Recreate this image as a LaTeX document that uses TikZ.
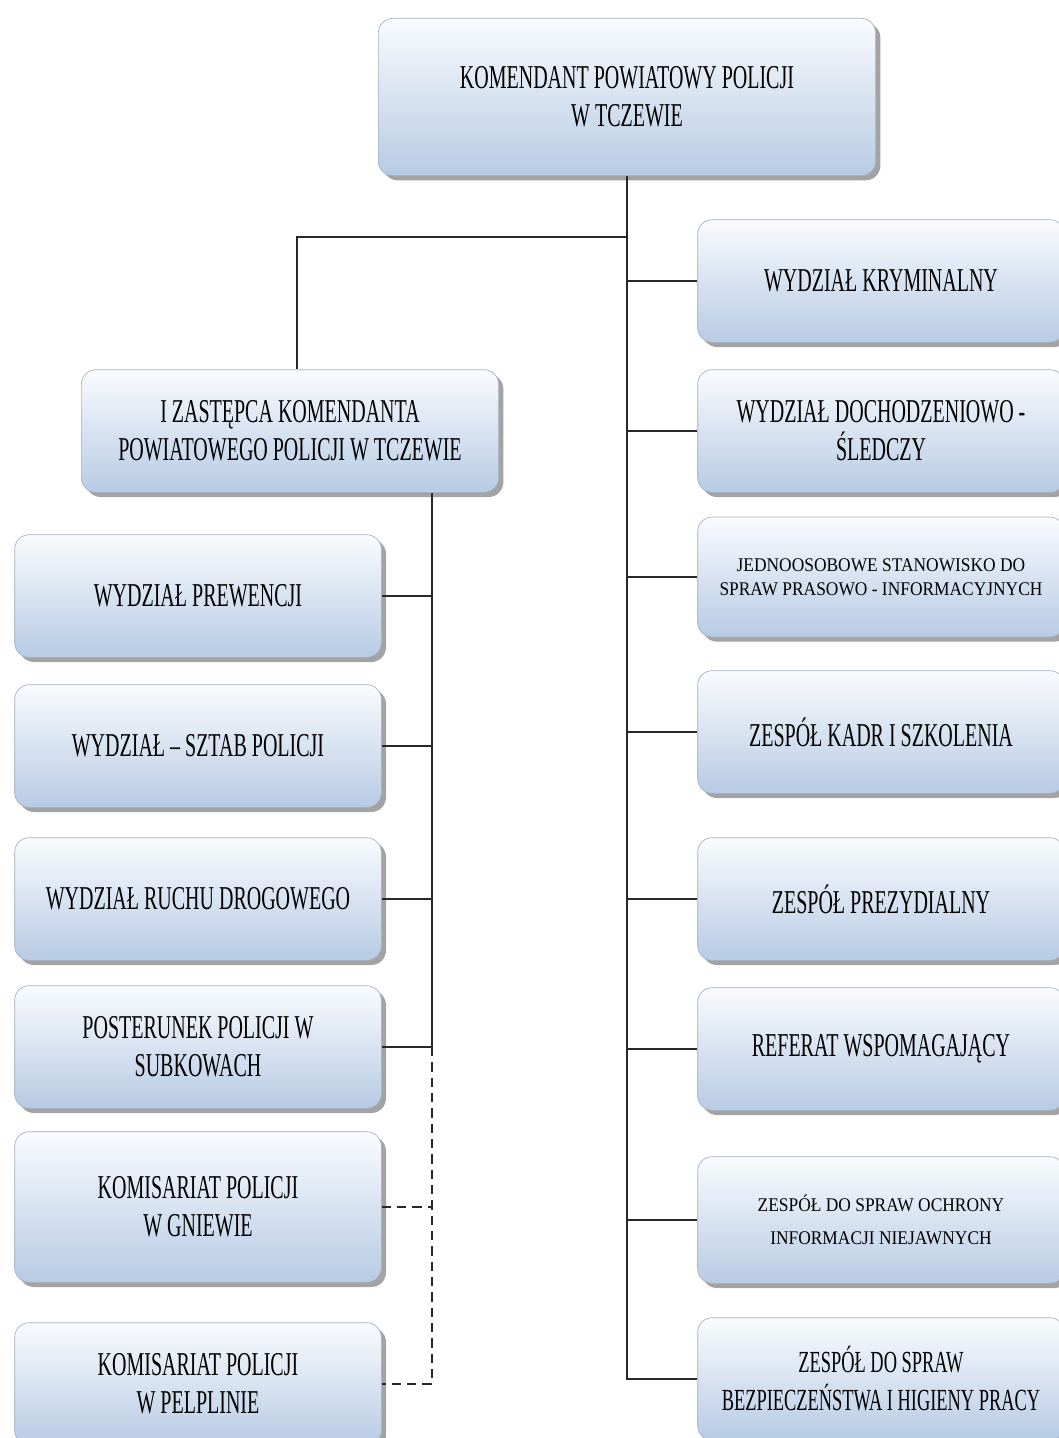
\documentclass[tikz,border=0pt]{standalone}
\usepackage{fontspec}
\setmainfont{Liberation Serif}[FakeStretch=0.6]
\newfontfamily\widefont{Liberation Serif}[FakeStretch=0.9]
\usetikzlibrary{shadows}

\definecolor{boxtop}{RGB}{249,251,254}
\definecolor{boxbot}{RGB}{183,203,228}
\definecolor{boxline}{RGB}{165,177,196}
\definecolor{linkgray}{RGB}{40,40,40}

\tikzset{every picture/.style={line width=0.75pt}}
\tikzset{
  unitbox/.style={rectangle, rounded corners=11pt, draw=boxline, line width=0.5pt,
    top color=boxtop, bottom color=boxbot, align=center, inner sep=2pt, text=black,
    drop shadow={shadow xshift=3.5pt, shadow yshift=-3.5pt, fill=black!60, opacity=.6},
    font=\fontsize{25}{28.5}\selectfont},
  sidebox/.style={unitbox, minimum width=275pt, minimum height=92pt},
  smalltext/.style={font=\widefont\fontsize{14.5}{18}\selectfont},
  link/.style={draw=linkgray, line width=1.4pt},
  dashlink/.style={link, dash pattern=on 7pt off 4.5pt}
}

\begin{document}
\begin{tikzpicture}[x=0.75pt,y=0.75pt,yscale=-1,xscale=1]
\path[use as bounding box] (0,0) rectangle (1059,1438);
\clip (0,0) rectangle (1059,1438);

% Komendant
\node[unitbox, minimum width=373pt, minimum height=118pt] (kpp) at (627,97) {KOMENDANT POWIATOWY POLICJI\\W TCZEWIE};

% Zastepca
\node[unitbox, minimum width=313pt, minimum height=92pt] (zast) at (290,431) {I ZASTĘPCA KOMENDANTA\\POWIATOWEGO POLICJI W TCZEWIE};

% left column
\node[sidebox] (prew) at (198,596) {WYDZIAŁ PREWENCJI};
\node[sidebox] (sztab) at (198,746) {WYDZIAŁ – SZTAB POLICJI};
\node[sidebox] (ruch) at (198,899) {WYDZIAŁ RUCHU DROGOWEGO};
\node[sidebox] (post) at (198,1047) {POSTERUNEK POLICJI W\\SUBKOWACH};
\node[sidebox, minimum height=113pt] (gniew) at (198,1207) {KOMISARIAT POLICJI\\W GNIEWIE};
\node[sidebox] (pelp) at (198,1384) {KOMISARIAT POLICJI\\W PELPLINIE};

% right column
\node[sidebox] (kryml) at (881,281) {WYDZIAŁ KRYMINALNY};
\node[sidebox] (doch) at (881,431) {WYDZIAŁ DOCHODZENIOWO -\\ŚLEDCZY};
\node[sidebox, minimum height=90pt, smalltext] (jedn) at (881,577) {JEDNOOSOBOWE STANOWISKO DO\\SPRAW PRASOWO - INFORMACYJNYCH};
\node[sidebox] (kadr) at (881,732) {ZESPÓŁ KADR I SZKOLENIA};
\node[sidebox] (prez) at (881,899) {ZESPÓŁ PREZYDIALNY};
\node[sidebox] (ref) at (881,1049) {REFERAT WSPOMAGAJĄCY};
\node[sidebox, minimum height=95pt, font=\widefont\fontsize{14.5}{25}\selectfont] (ochr) at (881,1220) {ZESPÓŁ DO SPRAW OCHRONY\\INFORMACJI NIEJAWNYCH};
\node[sidebox, font=\fontsize{23}{28.5}\selectfont] (bhp) at (881,1379) {ZESPÓŁ DO SPRAW\\BEZPIECZEŃSTWA I HIGIENY PRACY};

\coordinate (split) at (627,237);
\coordinate (lsplit) at ([xshift=106.5pt]zast.south);

% connectors
\draw[link] (kpp.south) |- (bhp.west);
\draw[link] (split) -| ([xshift=5pt]zast.north);
\foreach \n in {kryml,doch,jedn,kadr,prez,ref,ochr}
  \draw[link] (\n.west) -- (\n.west -| kpp.south);

\draw[link] (lsplit) |- (post.east);
\foreach \n in {prew,sztab,ruch}
  \draw[link] (\n.east) -- (\n.east -| lsplit);
\draw[dashlink] (post.east -| lsplit) |- (pelp.east);
\draw[dashlink] (gniew.east) -- (gniew.east -| lsplit);

\end{tikzpicture}
\end{document}
